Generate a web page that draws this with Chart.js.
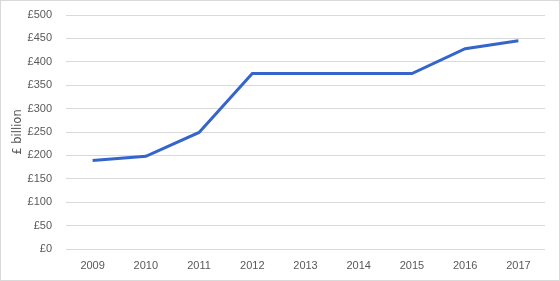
<!DOCTYPE html>
<html>
<head>
<meta charset="utf-8">
<script src="https://cdn.jsdelivr.net/npm/chart.js@4"></script>
<style>
  html, body { margin: 0; padding: 0; background: #fff; }
  .box { position: relative; width: 558px; height: 279px; border: 1px solid #d9d9d9; }
</style>
</head>
<body>
<div class="box"><canvas id="chart" width="558" height="279"></canvas></div>
<script>
const years = ["2009", "2010", "2011", "2012", "2013", "2014", "2015", "2016", "2017"];
const debt = [189, 198, 249, 375, 375, 375, 375, 428, 445];
const yTicks = [0, 50, 100, 150, 200, 250, 300, 350, 400, 450, 500];

const textColor = "#595959";
const font = { family: "'Liberation Sans', Arial, sans-serif", size: 11 };
const titleFont = { family: "'DejaVu Sans', sans-serif", size: 11.5 };

new Chart(document.getElementById("chart"), {
  type: "line",
  data: {
    labels: years,
    datasets: [{
      label: "£ billion",
      data: debt,
      borderColor: "#3465cb",
      borderWidth: 3,
      pointRadius: 0,
      tension: 0,
      fill: false
    }]
  },
  options: {
    responsive: false,
    animation: false,
    layout: { padding: { top: 14, right: 14, left: 0, bottom: 0 } },
    plugins: { legend: { display: false }, tooltip: { enabled: false } },
    scales: {
      x: {
        offset: true,
        grid: { display: false },
        border: { display: false },
        ticks: { color: textColor, font, padding: 2, maxRotation: 0 },
        afterFit: (s) => { s.height = 31; }
      },
      y: {
        min: 0,
        max: 500,
        afterBuildTicks: (s) => { s.ticks = yTicks.map(v => ({ value: v })); },
        grid: { color: "#d9d9d9", lineWidth: 1, drawTicks: false },
        border: { display: false },
        ticks: { color: textColor, font, padding: 14, callback: (v) => "£" + v },
        title: { display: true, text: "£ billion", color: textColor, font: titleFont, padding: { top: 10, bottom: 0 } },
        afterFit: (s) => { s.width = 65; s.paddingTop = 0; s.paddingBottom = 0; }
      }
    }
  }
});
</script>
</body>
</html>
